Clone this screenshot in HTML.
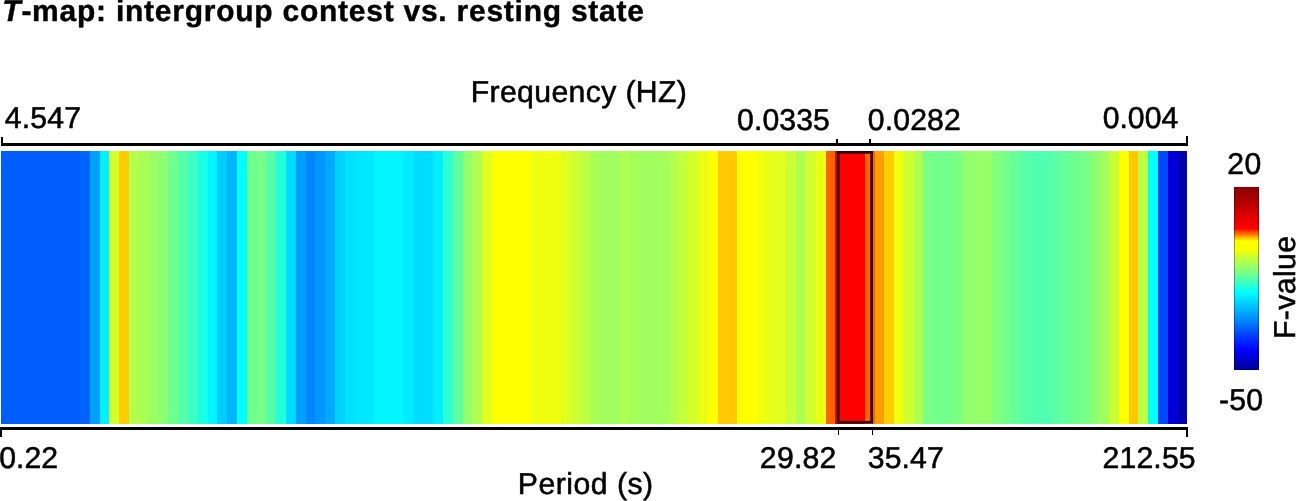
<!DOCTYPE html>
<html><head><meta charset="utf-8"><title>T-map</title>
<style>
html,body{margin:0;padding:0;background:#fff;}
body{width:1296px;height:501px;position:relative;overflow:hidden;font-family:"Liberation Sans",sans-serif;color:#000;}
.t{position:absolute;white-space:nowrap;line-height:1;transform-origin:0 0;-webkit-text-stroke:.55px #000;text-rendering:geometricPrecision;}
#hm{position:absolute;left:1.0px;top:151px;width:1186.30px;height:272.5px;background:linear-gradient(90deg,rgb(0,94,255) 0.00px,rgb(0,94,255) 10.31px,rgb(0,94,255) 10.31px,rgb(0,94,255) 20.12px,rgb(0,94,255) 20.12px,rgb(0,94,255) 29.93px,rgb(0,94,255) 29.93px,rgb(0,94,255) 39.74px,rgb(0,94,255) 39.74px,rgb(0,94,255) 49.55px,rgb(0,94,255) 49.55px,rgb(0,94,255) 59.36px,rgb(0,94,255) 59.36px,rgb(0,94,255) 69.17px,rgb(0,94,255) 69.17px,rgb(0,94,255) 78.98px,rgb(0,100,255) 78.98px,rgb(0,100,255) 88.79px,rgb(0,160,255) 88.79px,rgb(0,160,255) 98.60px,rgb(0,240,255) 98.60px,rgb(0,240,255) 108.41px,rgb(210,255,45) 108.41px,rgb(210,255,45) 118.22px,rgb(255,205,0) 118.22px,rgb(255,205,0) 128.03px,rgb(180,255,75) 128.03px,rgb(180,255,75) 137.84px,rgb(170,255,85) 137.84px,rgb(170,255,85) 147.65px,rgb(155,255,100) 147.65px,rgb(155,255,100) 157.46px,rgb(140,255,115) 157.46px,rgb(140,255,115) 167.27px,rgb(110,255,145) 167.27px,rgb(110,255,145) 177.08px,rgb(85,255,170) 177.08px,rgb(85,255,170) 186.89px,rgb(60,255,195) 186.89px,rgb(60,255,195) 196.70px,rgb(25,255,230) 196.70px,rgb(25,255,230) 206.51px,rgb(0,245,255) 206.51px,rgb(0,245,255) 216.32px,rgb(0,205,255) 216.32px,rgb(0,205,255) 226.13px,rgb(0,180,255) 226.13px,rgb(0,180,255) 235.94px,rgb(0,255,255) 235.94px,rgb(0,255,255) 245.75px,rgb(110,255,145) 245.75px,rgb(110,255,145) 255.56px,rgb(120,255,135) 255.56px,rgb(120,255,135) 265.37px,rgb(85,255,170) 265.37px,rgb(85,255,170) 275.18px,rgb(35,255,220) 275.18px,rgb(35,255,220) 284.99px,rgb(0,220,255) 284.99px,rgb(0,220,255) 294.80px,rgb(0,160,255) 294.80px,rgb(0,160,255) 304.61px,rgb(0,135,255) 304.61px,rgb(0,135,255) 314.42px,rgb(0,150,255) 314.42px,rgb(0,150,255) 324.23px,rgb(0,170,255) 324.23px,rgb(0,170,255) 334.04px,rgb(0,210,255) 334.04px,rgb(0,210,255) 343.85px,rgb(0,225,255) 343.85px,rgb(0,225,255) 353.66px,rgb(0,232,255) 353.66px,rgb(0,232,255) 363.47px,rgb(0,232,255) 363.47px,rgb(0,232,255) 373.28px,rgb(0,245,255) 373.28px,rgb(0,245,255) 383.09px,rgb(0,245,255) 383.09px,rgb(0,245,255) 392.90px,rgb(0,245,255) 392.90px,rgb(0,245,255) 402.71px,rgb(0,235,255) 402.71px,rgb(0,235,255) 412.52px,rgb(0,220,255) 412.52px,rgb(0,220,255) 422.33px,rgb(0,220,255) 422.33px,rgb(0,220,255) 432.14px,rgb(0,240,255) 432.14px,rgb(0,240,255) 441.95px,rgb(45,255,210) 441.95px,rgb(45,255,210) 451.76px,rgb(95,255,160) 451.76px,rgb(95,255,160) 461.57px,rgb(145,255,110) 461.57px,rgb(145,255,110) 471.38px,rgb(175,255,80) 471.38px,rgb(175,255,80) 481.19px,rgb(225,255,30) 481.19px,rgb(225,255,30) 491.00px,rgb(255,255,0) 491.00px,rgb(255,255,0) 500.81px,rgb(255,255,0) 500.81px,rgb(255,255,0) 510.62px,rgb(255,255,0) 510.62px,rgb(255,255,0) 520.43px,rgb(255,255,0) 520.43px,rgb(255,255,0) 530.24px,rgb(240,255,15) 530.24px,rgb(240,255,15) 540.05px,rgb(240,255,15) 540.05px,rgb(240,255,15) 549.86px,rgb(240,255,15) 549.86px,rgb(240,255,15) 559.67px,rgb(225,255,30) 559.67px,rgb(225,255,30) 569.48px,rgb(205,255,50) 569.48px,rgb(205,255,50) 579.29px,rgb(190,255,65) 579.29px,rgb(190,255,65) 589.10px,rgb(170,255,85) 589.10px,rgb(170,255,85) 598.91px,rgb(160,255,95) 598.91px,rgb(160,255,95) 608.72px,rgb(160,255,95) 608.72px,rgb(160,255,95) 618.53px,rgb(175,255,80) 618.53px,rgb(175,255,80) 628.34px,rgb(165,255,90) 628.34px,rgb(165,255,90) 638.15px,rgb(160,255,95) 638.15px,rgb(160,255,95) 647.96px,rgb(160,255,95) 647.96px,rgb(160,255,95) 657.77px,rgb(165,255,90) 657.77px,rgb(165,255,90) 667.58px,rgb(180,255,75) 667.58px,rgb(180,255,75) 677.39px,rgb(195,255,60) 677.39px,rgb(195,255,60) 687.20px,rgb(212,255,43) 687.20px,rgb(212,255,43) 697.01px,rgb(235,255,20) 697.01px,rgb(235,255,20) 706.82px,rgb(255,255,0) 706.82px,rgb(255,255,0) 716.63px,rgb(255,200,0) 716.63px,rgb(255,200,0) 726.44px,rgb(255,200,0) 726.44px,rgb(255,200,0) 736.25px,rgb(255,255,0) 736.25px,rgb(255,255,0) 746.06px,rgb(255,255,0) 746.06px,rgb(255,255,0) 755.87px,rgb(240,255,15) 755.87px,rgb(240,255,15) 765.68px,rgb(230,255,25) 765.68px,rgb(230,255,25) 775.49px,rgb(225,255,30) 775.49px,rgb(225,255,30) 785.30px,rgb(200,255,55) 785.30px,rgb(200,255,55) 795.11px,rgb(175,255,80) 795.11px,rgb(175,255,80) 804.92px,rgb(210,255,45) 804.92px,rgb(210,255,45) 814.73px,rgb(235,255,20) 814.73px,rgb(235,255,20) 824.54px,rgb(255,100,0) 824.54px,rgb(255,100,0) 834.35px,rgb(255,0,0) 834.35px,rgb(255,0,0) 844.16px,rgb(255,0,0) 844.16px,rgb(255,0,0) 853.97px,rgb(255,0,0) 853.97px,rgb(255,0,0) 863.78px,rgb(255,100,0) 863.78px,rgb(255,100,0) 873.59px,rgb(255,160,0) 873.59px,rgb(255,160,0) 883.40px,rgb(255,205,0) 883.40px,rgb(255,205,0) 893.17px,rgb(240,255,15) 893.17px,rgb(240,255,15) 902.94px,rgb(205,255,50) 902.94px,rgb(205,255,50) 912.71px,rgb(175,255,80) 912.71px,rgb(175,255,80) 922.48px,rgb(120,255,135) 922.48px,rgb(120,255,135) 932.25px,rgb(115,255,140) 932.25px,rgb(115,255,140) 942.03px,rgb(115,255,140) 942.03px,rgb(115,255,140) 951.80px,rgb(125,255,130) 951.80px,rgb(125,255,130) 961.57px,rgb(145,255,110) 961.57px,rgb(145,255,110) 971.34px,rgb(150,255,105) 971.34px,rgb(150,255,105) 981.11px,rgb(150,255,105) 981.11px,rgb(150,255,105) 990.88px,rgb(130,255,125) 990.88px,rgb(130,255,125) 1000.65px,rgb(115,255,140) 1000.65px,rgb(115,255,140) 1010.42px,rgb(100,255,155) 1010.42px,rgb(100,255,155) 1020.19px,rgb(85,255,170) 1020.19px,rgb(85,255,170) 1029.96px,rgb(80,255,175) 1029.96px,rgb(80,255,175) 1039.74px,rgb(80,255,175) 1039.74px,rgb(80,255,175) 1049.51px,rgb(90,255,165) 1049.51px,rgb(90,255,165) 1059.28px,rgb(100,255,155) 1059.28px,rgb(100,255,155) 1069.05px,rgb(110,255,145) 1069.05px,rgb(110,255,145) 1078.82px,rgb(120,255,135) 1078.82px,rgb(120,255,135) 1088.59px,rgb(138,255,117) 1088.59px,rgb(138,255,117) 1098.36px,rgb(160,255,95) 1098.36px,rgb(160,255,95) 1108.13px,rgb(200,255,55) 1108.13px,rgb(200,255,55) 1117.90px,rgb(255,255,0) 1117.90px,rgb(255,255,0) 1127.67px,rgb(255,200,0) 1127.67px,rgb(255,200,0) 1137.45px,rgb(190,255,65) 1137.45px,rgb(190,255,65) 1147.22px,rgb(0,255,255) 1147.22px,rgb(0,255,255) 1156.99px,rgb(0,72,250) 1156.99px,rgb(0,72,250) 1166.76px,rgb(0,0,215) 1166.76px,rgb(0,0,215) 1176.53px,rgb(0,0,175) 1176.53px,rgb(0,0,175) 1186.30px);}
.ln{position:absolute;background:#000;}
#box{position:absolute;left:830px;top:148px;}
#cb{position:absolute;left:1233.7px;top:186.8px;width:25.6px;height:183.5px;background:linear-gradient(180deg,rgb(140,0,0) 0.0px,rgb(165,0,0) 10.0px,rgb(255,0,0) 40.0px,rgb(255,5,0) 42.0px,rgb(255,60,0) 44.2px,rgb(255,130,0) 48.0px,rgb(255,200,0) 51.3px,rgb(255,255,0) 54.1px,rgb(248,255,5) 63.0px,rgb(200,255,50) 70.0px,rgb(160,255,95) 78.0px,rgb(95,255,160) 90.0px,rgb(0,255,255) 105.5px,rgb(0,200,255) 117.7px,rgb(0,130,255) 134.3px,rgb(0,50,255) 151.3px,rgb(0,0,255) 163.3px,rgb(0,0,145) 183.6px);}
#cb:before,#cb:after{content:"";position:absolute;top:0;bottom:0;width:1px;background:rgba(0,0,0,.35);}
#cb:before{left:0}#cb:after{right:0}
</style></head><body>
<div class="ln" style="left:1px;top:143px;width:1187px;height:2.9px"></div>
<div class="ln" style="left:1px;top:136.6px;width:2.1px;height:8px"></div>
<div class="ln" style="left:835.9px;top:139px;width:1.8px;height:5px"></div>
<div class="ln" style="left:869.2px;top:139px;width:1.8px;height:5px"></div>
<div class="ln" style="left:1185.9px;top:136.3px;width:2.1px;height:8px"></div>
<div id="hm"></div>
<svg id="box" width="50" height="280" viewBox="0 0 50 280"><rect x="8.15" y="4.35" width="33.5" height="269.9" fill="none" stroke="#2a0303" stroke-width="2.7"/></svg>
<div class="ln" style="left:0;top:427.2px;width:1188px;height:2.9px"></div>
<div class="ln" style="left:0;top:429px;width:1.9px;height:8px"></div>
<div class="ln" style="left:837.7px;top:429px;width:1.8px;height:6px"></div>
<div class="ln" style="left:871.5px;top:429px;width:1.8px;height:6px"></div>
<div class="ln" style="left:1185.6px;top:429px;width:2.2px;height:8px"></div>
<div id="cb"></div>
<div class="t" id="title" style="left:2.31px;top:-3.00px;font-size:30px;letter-spacing:0.751px;font-weight:bold;-webkit-text-stroke:0.4px #000;"><i>T</i>-map: intergroup contest vs. resting state</div>
<div class="t" id="freq" style="left:470.73px;top:77.70px;font-size:30.2px;letter-spacing:0.366px;">Frequency (HZ)</div>
<div class="t" id="l1" style="left:4.68px;top:103.90px;font-size:30.2px;letter-spacing:0.19px;">4.547</div>
<div class="t" id="l2" style="left:737.08px;top:106.30px;font-size:30.2px;letter-spacing:0.09px;">0.0335</div>
<div class="t" id="l3" style="left:867.84px;top:106.30px;font-size:30.2px;letter-spacing:0.12px;">0.0282</div>
<div class="t" id="l4" style="left:1102.70px;top:103.90px;font-size:30.2px;letter-spacing:-0.002px;">0.004</div>
<div class="t" id="b1" style="left:-0.75px;top:444.20px;font-size:30.2px;letter-spacing:0px;">0.22</div>
<div class="t" id="b2" style="left:759.87px;top:444.00px;font-size:30.2px;letter-spacing:0.252px;">29.82</div>
<div class="t" id="b3" style="left:867.86px;top:444.00px;font-size:30.2px;letter-spacing:0.071px;">35.47</div>
<div class="t" id="b4" style="left:1102.52px;top:444.00px;font-size:30.2px;letter-spacing:0.16px;">212.55</div>
<div class="t" id="per" style="left:517.81px;top:470.30px;font-size:30.2px;letter-spacing:0.492px;">Period (s)</div>
<div class="t" id="c1" style="left:1227.25px;top:150.20px;font-size:30.2px;letter-spacing:0.45px;">20</div>
<div class="t" id="c2" style="left:1219.02px;top:386.10px;font-size:30.2px;letter-spacing:0.25px;">-50</div>
<div class="t" id="fv" style="left:1270.80px;top:338.70px;font-size:30.2px;letter-spacing:0.4px;transform:rotate(-90deg);">F-value</div>
</body></html>
